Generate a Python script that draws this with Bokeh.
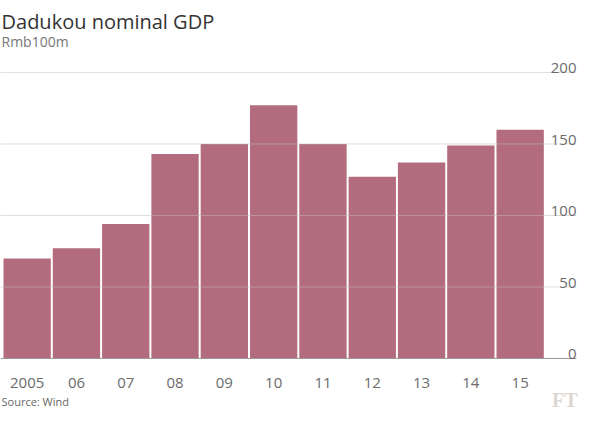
from bokeh.plotting import figure
from bokeh.models import Label, Range1d
from bokeh.core.properties import value
from bokeh.embed import file_html
from bokeh.resources import INLINE

years = ["2005", "06", "07", "08", "09", "10", "11", "12", "13", "14", "15"]
gdp = [70, 77, 94, 143, 150, 177, 150, 127, 137, 149, 160]
y_ticks = [0, 50, 100, 150, 200]
y_tick_labels = ["0", "50", "100", "150", "200"]

FONT = "Open Sans"
W, H = 584, 409
X_LEFT, X_RIGHT = -0.5406, 11.305      # frame spans the whole canvas
GRID_END = 11.143
Y_BOTTOM, Y_TOP = -35.66, 250.3

idx = list(range(len(years)))

p = figure(width=W, height=H, output_backend="svg", toolbar_location=None,
           x_range=Range1d(X_LEFT, X_RIGHT), y_range=Range1d(Y_BOTTOM, Y_TOP),
           x_axis_type=None, y_axis_type=None,
           min_border=0, min_border_left=0, min_border_right=0,
           min_border_top=0, min_border_bottom=0, title=None)
p.background_fill_color = "white"
p.border_fill_color = "white"
p.outline_line_color = None

# bars
p.vbar(x=idx, top=gdp, width=0.96, fill_color="#b36c7d", line_color=None)

# gridlines (dotted) and baseline (solid)
grid_vals = y_ticks[1:]
p.segment(x0=[X_LEFT] * len(grid_vals), x1=[GRID_END] * len(grid_vals),
          y0=grid_vals, y1=grid_vals, line_color="#bdbdbd", line_width=1,
          line_dash="1 1")
p.segment(x0=[X_LEFT], x1=[GRID_END], y0=[y_ticks[0]], y1=[y_ticks[0]],
          line_color="#9a9a9a", line_width=1)

# y tick labels, sitting on the gridlines, right aligned
p.text(x=GRID_END, y=y_ticks, text=y_tick_labels, text_align="right",
       text_baseline="alphabetic", y_offset=-4, text_font=value(FONT),
       text_font_size="15px", text_color="#6b6b6b")

# x tick labels
p.text(x=idx, y=0, text=years, text_align="center", text_baseline="alphabetic",
       y_offset=25, text_font=value(FONT), text_font_size="15px",
       text_color="#6b6b6b")

# titles and footer
p.add_layout(Label(x=1, y=H - 21, x_units="screen", y_units="screen",
                   text="Dadukou nominal GDP", text_baseline="alphabetic",
                   text_font=FONT, text_font_size="20px", text_color="#333333"))
p.add_layout(Label(x=1, y=H - 41, x_units="screen", y_units="screen",
                   text="Rmb100m", text_baseline="alphabetic",
                   text_font=FONT, text_font_size="14px", text_color="#777777"))
p.add_layout(Label(x=1, y=8, x_units="screen", y_units="screen",
                   text="Source: Wind", text_baseline="alphabetic",
                   text_font=FONT, text_font_size="11px", text_color="#666666"))
p.add_layout(Label(x=W - 7, y=10, x_units="screen", y_units="screen",
                   text="FT", text_align="right", text_baseline="alphabetic",
                   text_font="Liberation Serif", text_font_size="20px",
                   text_font_style="bold", text_color="#ded7cf"))

open("out.html", "w").write(file_html(p, INLINE))
